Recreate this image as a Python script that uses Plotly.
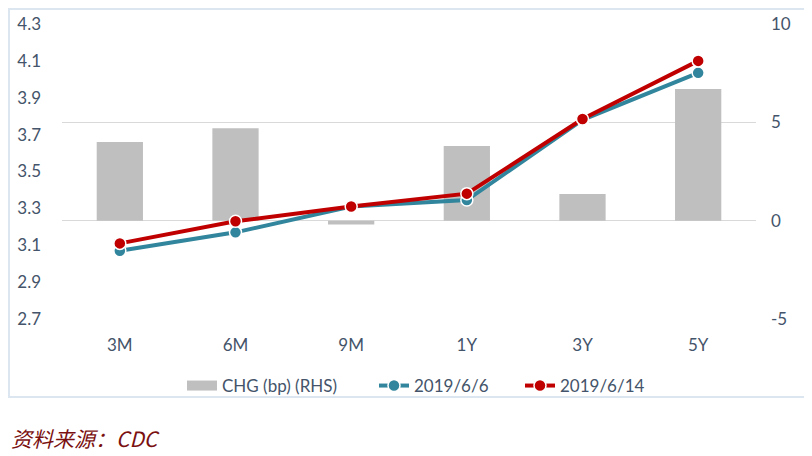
import plotly.graph_objects as go

categories = ["3M", "6M", "9M", "1Y", "3Y", "5Y"]
chg_bp = [4.0, 4.7, -0.2, 3.8, 1.35, 6.7]
y_0606 = [3.07, 3.17, 3.31, 3.345, 3.78, 4.035]
y_0614 = [3.11, 3.23, 3.31, 3.38, 3.785, 4.10]
left_ticks = [2.7, 2.9, 3.1, 3.3, 3.5, 3.7, 3.9, 4.1, 4.3]
right_ticks = [-5, 0, 5, 10]
right_text = ["-5", "0", "5", "10"]

OFF = 8  # page offset of the figure inside the browser window
W, H = 812 - OFF, 456 - OFF
# plot area in reference (window) pixels: x 62..756, y 24..319
L, R, T, B = 62 - OFF, 812 - 756, 24 - OFF, 456 - 319
pw, ph = W - L - R, H - T - B

def px(x):
    return (x - OFF - L) / pw

def py(y):
    return (T + ph - (y - OFF)) / ph

def cy(y):
    return 1 - (y - OFF) / H

tick_color = "#44546A"
font_fam = "Lato, Open Sans, sans-serif"
bar_color = "#BFBFBF"

fig = go.Figure()
fig.add_trace(go.Bar(
    x=categories, y=chg_bp, name="CHG (bp) (RHS)",
    marker=dict(color=bar_color, line=dict(width=0)),
    width=0.4, yaxis="y", showlegend=False, legendgroup="chg",
))
# legend-only entry drawn as a wide grey swatch
fig.add_trace(go.Scatter(
    x=[None], y=[None], name="CHG (bp) (RHS)", mode="lines",
    line=dict(color=bar_color, width=11), legend="legend", legendgroup="chg", yaxis="y",
))
fig.add_trace(go.Scatter(
    x=categories, y=y_0606, name="2019/6/6", mode="lines+markers",
    line=dict(color="#31859C", width=4),
    marker=dict(size=12, color="#31859C", line=dict(color="white", width=1.5)),
    yaxis="y2", legend="legend2",
))
fig.add_trace(go.Scatter(
    x=categories, y=y_0614, name="2019/6/14", mode="lines+markers",
    line=dict(color="#C00000", width=4),
    marker=dict(size=12, color="#C00000", line=dict(color="white", width=1.5)),
    yaxis="y2", legend="legend3",
))

def leg(x_origin):
    return dict(orientation="h", xref="paper", x=px(x_origin), xanchor="left",
                yref="container", y=cy(386), yanchor="middle",
                font=dict(size=17, color=tick_color), bgcolor="rgba(0,0,0,0)")

fig.update_layout(
    width=W, height=H,
    margin=dict(l=L, r=R, t=T, b=B, autoexpand=False),
    paper_bgcolor="white", plot_bgcolor="white",
    font=dict(family=font_fam, color=tick_color, size=17),
    showlegend=True,
    legend=leg(182), legend2=leg(374), legend3=leg(520),
    xaxis=dict(showgrid=False, showline=False, ticks="", automargin=False,
               tickfont=dict(size=17, color=tick_color), ticklabelstandoff=14),
    yaxis=dict(side="right", range=[-5, 10], tickvals=right_ticks, ticktext=right_text,
               showgrid=True, gridcolor="#D9D9D9", gridwidth=1, zeroline=False, showline=False,
               automargin=False, tickfont=dict(size=17, color=tick_color), ticklabelstandoff=14),
    yaxis2=dict(side="left", overlaying="y", range=[2.7, 4.3], tickvals=left_ticks,
                ticktext=[f"{v:.1f}" for v in left_ticks], showgrid=False, zeroline=False,
                showline=False, automargin=False,
                tickfont=dict(size=17, color=tick_color), ticklabelstandoff=20),
    shapes=[dict(type="rect", xref="paper", yref="paper",
                 x0=px(OFF + 1), x1=px(810), y0=py(397), y1=py(OFF + 1),
                 line=dict(color="#DCE6F0", width=2), fillcolor="rgba(0,0,0,0)", layer="below")],
    annotations=[dict(text="资料来源：CDC", xref="paper", yref="paper", x=px(OFF + 1), y=py(455),
                      xanchor="left", yanchor="bottom", showarrow=False,
                      font=dict(family="Noto Sans CJK SC", size=21, color="#7A1010", style="italic"))],
)

fig.write_html("out.html")
